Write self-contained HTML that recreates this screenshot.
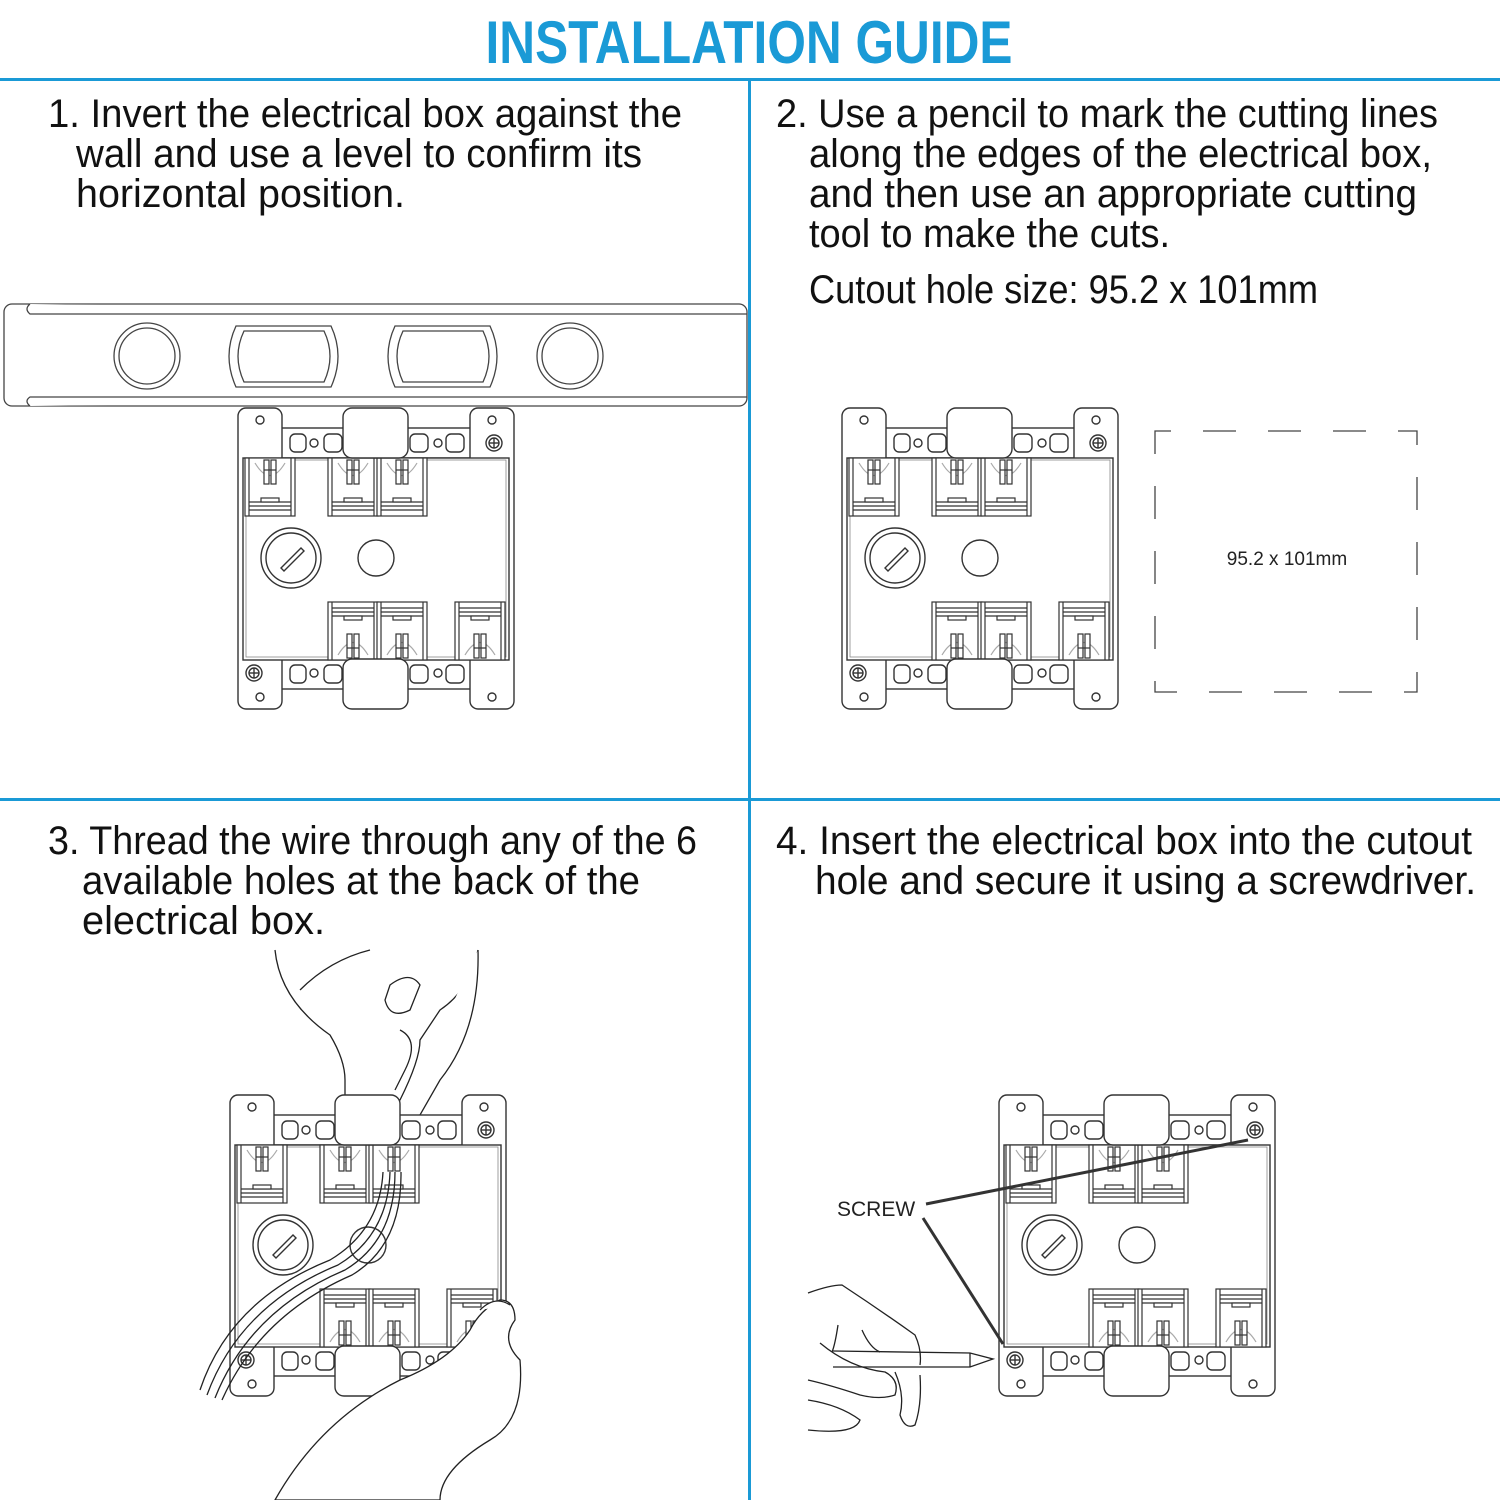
<!DOCTYPE html>
<html><head><meta charset="utf-8"><style>
html,body{margin:0;padding:0;background:#fff;}
svg{display:block}
</style></head><body>
<svg width="1500" height="1500" viewBox="0 0 1500 1500" xmlns="http://www.w3.org/2000/svg">
<defs>
<g id="blk" fill="#fff" stroke="#333" stroke-width="1.2">
  <rect x="0" y="0" width="50" height="58"/>
  <line x1="4" y1="0" x2="4" y2="58"/><line x1="46" y1="0" x2="46" y2="58"/>
  <line x1="4" y1="44" x2="46" y2="44"/><line x1="4" y1="48" x2="46" y2="48"/><line x1="4" y1="52" x2="46" y2="52"/>
  <path d="M10 5 Q25 30 40 5" fill="none" stroke="#aaa"/>
  <rect x="19" y="2" width="5" height="24"/><rect x="26" y="2" width="5" height="24"/>
  <line x1="19" y1="12" x2="31" y2="12"/>
  <rect x="16" y="40" width="18" height="4"/>
</g>
<g id="box" fill="#fff" stroke="#333" stroke-width="1.4">
  <rect x="20" y="20" width="236" height="30"/>
  <rect x="20" y="251" width="236" height="30"/>
  <rect x="52" y="26" width="16" height="18" rx="5"/><rect x="86" y="26" width="18" height="18" rx="5"/>
  <rect x="172" y="26" width="18" height="18" rx="5"/><rect x="208" y="26" width="18" height="18" rx="5"/>
  <rect x="52" y="257" width="16" height="18" rx="5"/><rect x="86" y="257" width="18" height="18" rx="5"/>
  <rect x="172" y="257" width="18" height="18" rx="5"/><rect x="208" y="257" width="18" height="18" rx="5"/>
  <circle cx="76" cy="35" r="4"/><circle cx="200" cy="35" r="4"/>
  <circle cx="76" cy="265" r="4"/><circle cx="200" cy="265" r="4"/>
  <rect x="0" y="0" width="44" height="301" rx="8"/>
  <rect x="232" y="0" width="44" height="301" rx="8"/>
  <rect x="5" y="50" width="266" height="202"/>
  <rect x="8" y="52" width="260" height="197" fill="none" stroke="#888" stroke-width="0.8"/>
  <use href="#blk" x="7" y="50"/>
  <use href="#blk" x="90" y="50"/>
  <use href="#blk" x="139" y="50"/>
  <g transform="translate(0,444) scale(1,-1)">
    <use href="#blk" x="90" y="192"/><use href="#blk" x="139" y="192"/><use href="#blk" x="217" y="192"/>
  </g>
  <rect x="105" y="0" width="65" height="50" rx="9"/>
  <rect x="105" y="251" width="65" height="50" rx="9"/>
  <circle cx="22" cy="12" r="4"/><circle cx="254" cy="12" r="4"/>
  <circle cx="22" cy="289" r="4"/><circle cx="254" cy="289" r="4"/>
  <circle cx="256" cy="35" r="8"/><circle cx="256" cy="35" r="5"/><line x1="251" y1="35" x2="261" y2="35"/><line x1="256" y1="30" x2="256" y2="40"/>
  <circle cx="16" cy="265" r="8"/><circle cx="16" cy="265" r="5"/><line x1="11" y1="265" x2="21" y2="265"/><line x1="16" y1="260" x2="16" y2="270"/>
  <circle cx="53" cy="150" r="30"/><circle cx="53" cy="150" r="25"/>
  <path d="M43 160 L63 140 L66 143 L46 163 Z"/>
  <circle cx="138" cy="150" r="18"/>
</g>
</defs>

<text x="749" y="63" text-anchor="middle" font-family="Liberation Sans, sans-serif" font-weight="bold" font-size="60" fill="#1a9ad6" textLength="527" lengthAdjust="spacingAndGlyphs">INSTALLATION GUIDE</text>
<rect x="0" y="78" width="1500" height="3" fill="#1a9ad6"/>
<rect x="0" y="798" width="1500" height="3" fill="#1a9ad6"/>
<rect x="748" y="78" width="3" height="1422" fill="#1a9ad6"/>

<g font-family="Liberation Sans, sans-serif" font-size="40" fill="#111">
<text x="48" y="127" textLength="634" lengthAdjust="spacingAndGlyphs">1. Invert the electrical box against the</text>
<text x="76" y="167" textLength="566" lengthAdjust="spacingAndGlyphs">wall and use a level to confirm its</text>
<text x="76" y="207" textLength="329" lengthAdjust="spacingAndGlyphs">horizontal position.</text>
<text x="776" y="127" textLength="662" lengthAdjust="spacingAndGlyphs">2. Use a pencil to mark the cutting lines</text>
<text x="809" y="167" textLength="623" lengthAdjust="spacingAndGlyphs">along the edges of the electrical box,</text>
<text x="809" y="207" textLength="608" lengthAdjust="spacingAndGlyphs">and then use an appropriate cutting</text>
<text x="809" y="247" textLength="361" lengthAdjust="spacingAndGlyphs">tool to make the cuts.</text>
<text x="809" y="303" textLength="509" lengthAdjust="spacingAndGlyphs">Cutout hole size: 95.2 x 101mm</text>
<text x="48" y="854" textLength="649" lengthAdjust="spacingAndGlyphs">3. Thread the wire through any of the 6</text>
<text x="82" y="894" textLength="558" lengthAdjust="spacingAndGlyphs">available holes at the back of the</text>
<text x="82" y="934" textLength="243" lengthAdjust="spacingAndGlyphs">electrical box.</text>
<text x="776" y="854" textLength="696" lengthAdjust="spacingAndGlyphs">4. Insert the electrical box into the cutout</text>
<text x="815" y="894" textLength="661" lengthAdjust="spacingAndGlyphs">hole and secure it using a screwdriver.</text>
</g>

<!-- level -->
<g fill="#fff" stroke="#444" stroke-width="1.3">
  <rect x="4" y="304" width="743" height="102" rx="8"/>
  <path d="M30 304 Q24 309 30 314 L747 314"/>
  <path d="M30 406 Q24 401 30 397 L747 397"/>
  <circle cx="147" cy="356" r="33"/><circle cx="147" cy="356" r="28"/>
  <circle cx="570" cy="356" r="33"/><circle cx="570" cy="356" r="28"/>
  <path d="M236 326 L331 326 Q345 356 331 387 L236 387 Q222 356 236 326 Z"/>
  <path d="M244 331 L324 331 Q336 356 324 382 L244 382 Q232 356 244 331 Z"/>
  <path d="M395 326 L490 326 Q504 356 490 387 L395 387 Q381 356 395 326 Z"/>
  <path d="M403 331 L483 331 Q495 356 483 382 L403 382 Q391 356 403 331 Z"/>
</g>

<use href="#box" x="238" y="408"/>
<use href="#box" x="842" y="408"/>

<rect x="1155" y="431" width="262" height="261" fill="none" stroke="#444" stroke-width="1.3" stroke-dasharray="33 32" stroke-dashoffset="17"/>
<text x="1287" y="565" text-anchor="middle" font-family="Liberation Sans, sans-serif" font-size="19" fill="#222">95.2 x 101mm</text>

<!-- panel 3 -->
<g fill="#fff" stroke="#222" stroke-width="1.3">
  <path d="M275 950 Q280 1000 330 1035 Q345 1060 345 1080 L345 1100 L400 1100 Q420 1060 420 1040 L440 1010 Q470 990 478 950" />
  <path d="M300 990 Q330 960 370 950"/>
  <path d="M390 985 Q410 970 420 985 L410 1010 Q390 1020 385 1000 Z"/>
  <path d="M400 1030 Q420 1040 405 1070 L395 1090"/>
  <path d="M478 950 Q480 1030 440 1080 L420 1115 Q405 1120 400 1115"/>
</g>
<use href="#box" x="230" y="1095"/>
<g fill="none" stroke="#222" stroke-width="1.3">
  <path d="M383 1172 Q380 1230 330 1260 Q230 1300 200 1390"/>
  <path d="M390 1172 Q388 1235 338 1265 Q240 1305 207 1395"/>
  <path d="M395 1172 Q395 1240 345 1270 Q250 1310 215 1398"/>
  <path d="M401 1172 Q402 1245 352 1275 Q260 1315 222 1400"/>
</g>
<g fill="#fff" stroke="#222" stroke-width="1.3">
  <path d="M275 1500 Q320 1420 400 1380 Q450 1360 470 1330 Q480 1310 500 1300 Q515 1300 515 1320 Q500 1340 520 1360 Q525 1420 490 1440 Q440 1470 440 1500 Z"/>
  <path d="M480 1310 Q495 1295 510 1305"/>
</g>

<!-- panel 4 -->
<use href="#box" x="999" y="1095"/>
<text x="837" y="1216" font-family="Liberation Sans, sans-serif" font-size="21" fill="#222">SCREW</text>
<line x1="926" y1="1204" x2="1248" y2="1140" stroke="#333" stroke-width="3"/>
<line x1="923" y1="1218" x2="1003" y2="1344" stroke="#333" stroke-width="3"/>
<g fill="none" stroke="#222" stroke-width="1.3">
  <path d="M808 1293 Q830 1285 842 1285 Q880 1310 915 1335 Q922 1350 920 1365"/>
  <path d="M838 1325 Q835 1345 832 1352"/>
  <path d="M862 1330 Q870 1348 880 1352"/>
  <path d="M820 1343 Q850 1368 885 1372 Q900 1380 895 1395 Q880 1400 860 1395 Q830 1385 808 1380"/>
  <path d="M808 1400 Q840 1405 860 1420 Q855 1435 808 1430"/>
  <path d="M895 1372 Q905 1395 900 1415 Q905 1430 915 1425 Q922 1405 920 1375"/>
  <path d="M833 1351 L970 1353 L993 1359 L970 1367 L833 1367"/>
  <line x1="970" y1="1353" x2="970" y2="1367"/>
</g>
</svg>
</body></html>
